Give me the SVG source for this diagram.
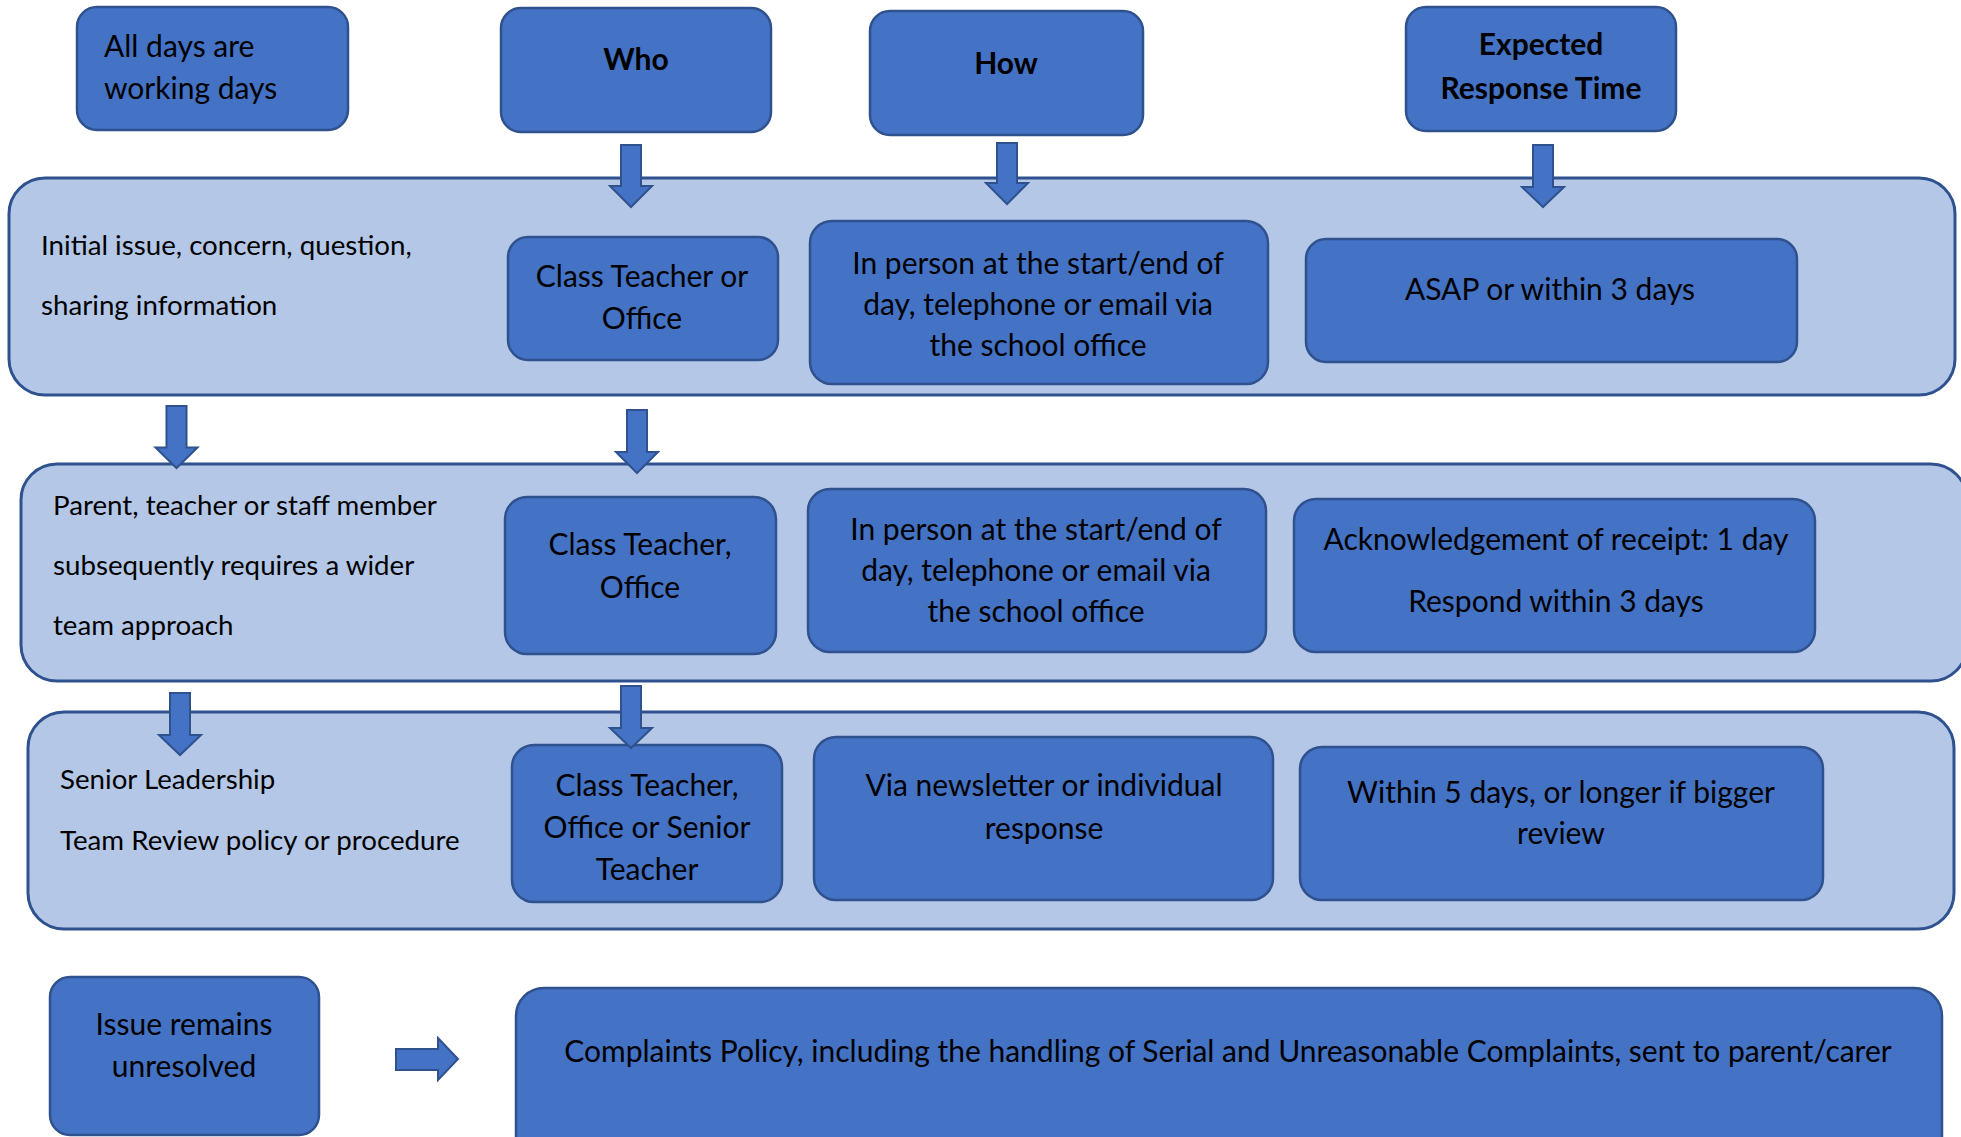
<svg xmlns="http://www.w3.org/2000/svg" width="1961" height="1137" viewBox="0 0 1961 1137">
<style>
.panel{fill:#B4C7E7;stroke:#2F528F;stroke-width:3}
.box{fill:#4472C4;stroke:#2F528F;stroke-width:2.5}
.arr{fill:#4472C4;stroke:#2F528F;stroke-width:2}
text{font-family:Lato,"Liberation Sans",sans-serif;font-size:30px;fill:#000}
.lbl{font-size:27.7px}
.c{text-anchor:middle}
.b{font-weight:bold}
</style>
<rect width="1961" height="1137" fill="#fff"/>
<g id="panel1"><rect class="panel" x="9" y="178" width="1946" height="217" rx="36"/>
<text class="lbl" x="41" y="255">Initial issue, concern, question,</text><text class="lbl" x="41" y="315">sharing information</text></g>
<g id="panel2"><rect class="panel" x="21" y="464" width="1946" height="217" rx="36"/>
<text class="lbl" x="53" y="515">Parent, teacher or staff member</text><text class="lbl" x="53" y="575">subsequently requires a wider</text><text class="lbl" x="53" y="635">team approach</text></g>
<g id="panel3"><rect class="panel" x="28" y="712" width="1926" height="217" rx="36"/>
<text class="lbl" x="60" y="789">Senior Leadership</text><text class="lbl" x="60" y="850">Team Review policy or procedure</text></g>

<g id="alldays"><rect class="box" x="77" y="7" width="271" height="123" rx="20"/>
<text x="104" y="57">All days are</text><text x="104" y="99">working days</text></g>
<g id="who"><rect class="box" x="501" y="8" width="270" height="124" rx="20"/>
<text class="c b" x="636" y="70">Who</text></g>
<g id="how"><rect class="box" x="870" y="11" width="273" height="124" rx="20"/>
<text class="c b" x="1006" y="74">How</text></g>
<g id="expected"><rect class="box" x="1406" y="7" width="270" height="124" rx="20"/>
<text class="c b" x="1541" y="55">Expected</text><text class="c b" x="1541" y="99">Response Time</text></g>

<g id="who1"><rect class="box" x="508" y="237" width="270" height="123" rx="20"/>
<text class="c" x="642" y="287">Class Teacher or</text><text class="c" x="642" y="329">Office</text></g>
<g id="how1"><rect class="box" x="810" y="221" width="458" height="163" rx="22"/>
<text class="c" x="1038" y="274">In person at the start/end of</text><text class="c" x="1038" y="315">day, telephone or email via</text><text class="c" x="1038" y="356">the school office</text></g>
<g id="time1"><rect class="box" x="1306" y="239" width="491" height="123" rx="20"/>
<text class="c" x="1550" y="300">ASAP or within 3 days</text></g>

<g id="who2"><rect class="box" x="505" y="497" width="271" height="157" rx="22"/>
<text class="c" x="640" y="555">Class Teacher,</text><text class="c" x="640" y="598">Office</text></g>
<g id="how2"><rect class="box" x="808" y="489" width="458" height="163" rx="22"/>
<text class="c" x="1036" y="540">In person at the start/end of</text><text class="c" x="1036" y="581">day, telephone or email via</text><text class="c" x="1036" y="622">the school office</text></g>
<g id="time2"><rect class="box" x="1294" y="499" width="521" height="153" rx="22"/>
<text class="c" x="1556" y="550">Acknowledgement of receipt: 1 day</text><text class="c" x="1556" y="612">Respond within 3 days</text></g>

<g id="who3"><rect class="box" x="512" y="745" width="270" height="157" rx="22"/>
<text class="c" x="647" y="796">Class Teacher,</text><text class="c" x="647" y="838">Office or Senior</text><text class="c" x="647" y="880">Teacher</text></g>
<g id="how3"><rect class="box" x="814" y="737" width="459" height="163" rx="22"/>
<text class="c" x="1044" y="796">Via newsletter or individual</text><text class="c" x="1044" y="839">response</text></g>
<g id="time3"><rect class="box" x="1300" y="747" width="523" height="153" rx="22"/>
<text class="c" x="1561" y="803">Within 5 days, or longer if bigger</text><text class="c" x="1561" y="844">review</text></g>

<g id="unresolved"><rect class="box" x="50" y="977" width="269" height="158" rx="20"/>
<text class="c" x="184" y="1035">Issue remains</text><text class="c" x="184" y="1077">unresolved</text></g>
<g id="complaints"><rect class="box" x="516" y="988" width="1426" height="180" rx="28"/>
<text class="c" x="1228" y="1062">Complaints Policy, including the handling of Serial and Unreasonable Complaints, sent to parent/carer</text></g>

<g id="connectors">
<polygon class="arr" points="621,145 641,145 641,186 652,186 631,207 610,186 621,186"/>
<polygon class="arr" points="997,143 1017,143 1017,183 1028,183 1007,204 986,183 997,183"/>
<polygon class="arr" points="1533,145 1553,145 1553,187 1564,187 1543,207 1522,187 1533,187"/>
<polygon class="arr" points="166.5,406 186.5,406 186.5,447.5 197.5,447.5 176.5,468 155.5,447.5 166.5,447.5"/>
<polygon class="arr" points="627,410 647,410 647,452 658,452 637,473 616,452 627,452"/>
<polygon class="arr" points="170,693 190,693 190,735 201,735 180,755 159,735 170,735"/>
<polygon class="arr" points="621,686 641,686 641,728 652,728 631,748 610,728 621,728"/>
<polygon class="arr" points="396,1049 438,1049 438,1038 458,1059 438,1080 438,1070 396,1070"/>
</g>
</svg>
